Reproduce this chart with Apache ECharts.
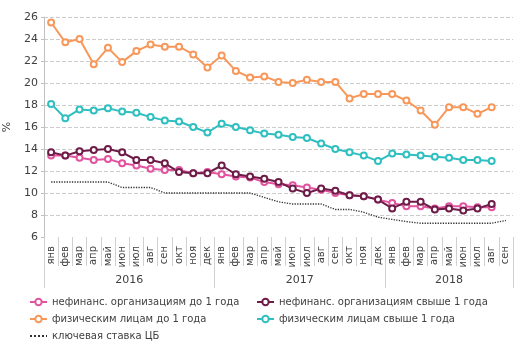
<!DOCTYPE html>
<html>
<head>
<meta charset="utf-8">
<script src="https://cdn.jsdelivr.net/npm/echarts@6/dist/echarts.min.js"></script>
<style>
  html, body { margin: 0; padding: 0; background: #fff; }
  #chart { width: 531px; height: 344px; }
</style>
</head>
<body>
<div id="chart"></div>
<script>
var monthNames = ['янв', 'фев', 'мар', 'апр', 'май', 'июн', 'июл', 'авг', 'сен', 'окт', 'ноя', 'дек']
var years = ['2016', '2017', '2018']
var monthsPerYear = [12, 12, 9]

// нефинанс. организациям до 1 года
var corpShort = [13.4, 13.4, 13.2, 13.0, 13.1, 12.7, 12.5, 12.2, 12.1, 12.1, 11.8, 11.9,
  11.7, 11.5, 11.4, 11.0, 10.8, 10.7, 10.5, 10.3, 10.0, 9.8, 9.7, 9.4,
  9.1, 8.8, 8.8, 8.6, 8.8, 8.8, 8.7, 8.7]
// нефинанс. организациям свыше 1 года
var corpLong = [13.7, 13.4, 13.8, 13.9, 14.0, 13.7, 13.0, 13.0, 12.7, 11.9, 11.8, 11.8,
  12.5, 11.7, 11.5, 11.3, 11.0, 10.4, 10.0, 10.4, 10.2, 9.8, 9.7, 9.4,
  8.6, 9.2, 9.2, 8.5, 8.6, 8.4, 8.6, 9.0]
// физическим лицам до 1 года
var retailShort = [25.5, 23.7, 24.0, 21.7, 23.2, 21.9, 22.9, 23.5, 23.3, 23.3, 22.6, 21.4,
  22.5, 21.1, 20.5, 20.6, 20.1, 20.0, 20.3, 20.1, 20.1, 18.6, 19.0, 19.0,
  19.0, 18.4, 17.5, 16.2, 17.8, 17.8, 17.2, 17.8]
// физическим лицам свыше 1 года
var retailLong = [18.1, 16.8, 17.6, 17.5, 17.7, 17.4, 17.3, 16.9, 16.6, 16.5, 16.0, 15.5,
  16.3, 16.0, 15.7, 15.4, 15.3, 15.1, 15.0, 14.5, 14.0, 13.7, 13.4, 12.9,
  13.6, 13.5, 13.4, 13.3, 13.2, 13.0, 13.0, 12.9]
// ключевая ставка ЦБ
var keyRate = [11, 11, 11, 11, 11, 10.5, 10.5, 10.5, 10, 10, 10, 10,
  10, 10, 10, 9.6, 9.2, 9.0, 9.0, 9.0, 8.5, 8.5, 8.25, 7.8,
  7.6, 7.4, 7.25, 7.25, 7.25, 7.25, 7.25, 7.25, 7.5]

var yTicks = [6, 26, 2] // min, max, step

// month categories along the axis
var months = []
monthsPerYear.forEach(function (n) {
  for (var i = 0; i < n; i++) months.push(monthNames[i])
})

// half-month slots for the year axis: year names sit in the middle of their span
var halfSlots = []
var yearLabelIdx = []
var yearEdgeIdx = [0]
var start = 0
for (var i = 0; i <= months.length * 2; i++) halfSlots.push('')
monthsPerYear.forEach(function (n, k) {
  var mid = start + n
  halfSlots[mid] = years[k]
  yearLabelIdx.push(mid)
  start += n * 2
  yearEdgeIdx.push(start)
})

var textColor = '#404040'
var font = 'DejaVu Sans'

function lineSeries(name, data, color) {
  return {
    name: name,
    type: 'line',
    data: data,
    symbol: 'emptyCircle',
    symbolSize: 6,
    lineStyle: { color: color, width: 2 },
    itemStyle: { color: color, borderColor: color, borderWidth: 1.5 },
    z: 3
  }
}

var legendBase = {
  orient: 'vertical',
  top: 296,
  height: 48,
  padding: 0,
  itemWidth: 17,
  itemHeight: 8,
  itemGap: 5,
  textStyle: { fontFamily: font, fontSize: 10, color: textColor, lineHeight: 12 }
}

var chart = echarts.init(document.getElementById('chart'))
chart.setOption({
  animation: false,
  textStyle: { fontFamily: font },
  grid: {
    left: 44,
    right: 18,
    top: 17,
    bottom: 107,
    containLabel: false,
    outerBoundsMode: 'none'
  },
  legend: [
    Object.assign({}, legendBase, {
      left: 29,
      data: [
        'нефинанс. организациям до 1 года',
        'физическим лицам до 1 года',
        { name: 'ключевая ставка ЦБ', itemStyle: { opacity: 0 } }
      ]
    }),
    Object.assign({}, legendBase, {
      left: 256,
      data: ['нефинанс. организациям свыше 1 года', 'физическим лицам свыше 1 года']
    })
  ],
  xAxis: [
    {
      type: 'category',
      data: months,
      boundaryGap: true,
      axisLine: { show: false },
      axisTick: { show: true, length: 29, lineStyle: { color: '#d0d0d0' } },
      axisLabel: {
        rotate: 90,
        interval: 0,
        margin: 9,
        fontSize: 10,
        fontFamily: font,
        color: textColor
      },
      splitLine: { show: false }
    },
    {
      type: 'category',
      data: halfSlots,
      boundaryGap: false,
      position: 'bottom',
      axisLine: { show: false },
      axisTick: {
        show: true,
        length: 51,
        interval: function (idx) { return yearEdgeIdx.indexOf(idx) >= 0 },
        lineStyle: { color: '#d0d0d0' }
      },
      axisLabel: {
        interval: function (idx) { return yearLabelIdx.indexOf(idx) >= 0 },
        margin: 38,
        fontSize: 11,
        fontFamily: font,
        color: textColor
      },
      splitLine: { show: false }
    }
  ],
  yAxis: {
    type: 'value',
    min: yTicks[0],
    max: yTicks[1],
    interval: yTicks[2],
    name: '%',
    nameLocation: 'middle',
    nameGap: 28,
    nameTextStyle: { fontFamily: font, fontSize: 11, color: textColor },
    axisLine: { show: true, lineStyle: { color: '#c0c0c0' } },
    axisTick: { show: true, length: 3, lineStyle: { color: '#c0c0c0' } },
    axisLabel: { fontSize: 11, fontFamily: font, color: textColor, margin: 6 },
    splitLine: { show: true, showMinLine: false, lineStyle: { color: '#cccccc', type: 'dashed' } }
  },
  series: [
    lineSeries('нефинанс. организациям до 1 года', corpShort, '#e2549f'),
    lineSeries('нефинанс. организациям свыше 1 года', corpLong, '#6d1c48'),
    lineSeries('физическим лицам до 1 года', retailShort, '#f7985a'),
    lineSeries('физическим лицам свыше 1 года', retailLong, '#30bfc0'),
    {
      name: 'ключевая ставка ЦБ',
      type: 'line',
      data: keyRate,
      symbol: 'none',
      lineStyle: { color: '#333333', width: 1.3, type: 'dotted' },
      itemStyle: { color: '#333333' },
      z: 2
    }
  ]
})
</script>
</body>
</html>
